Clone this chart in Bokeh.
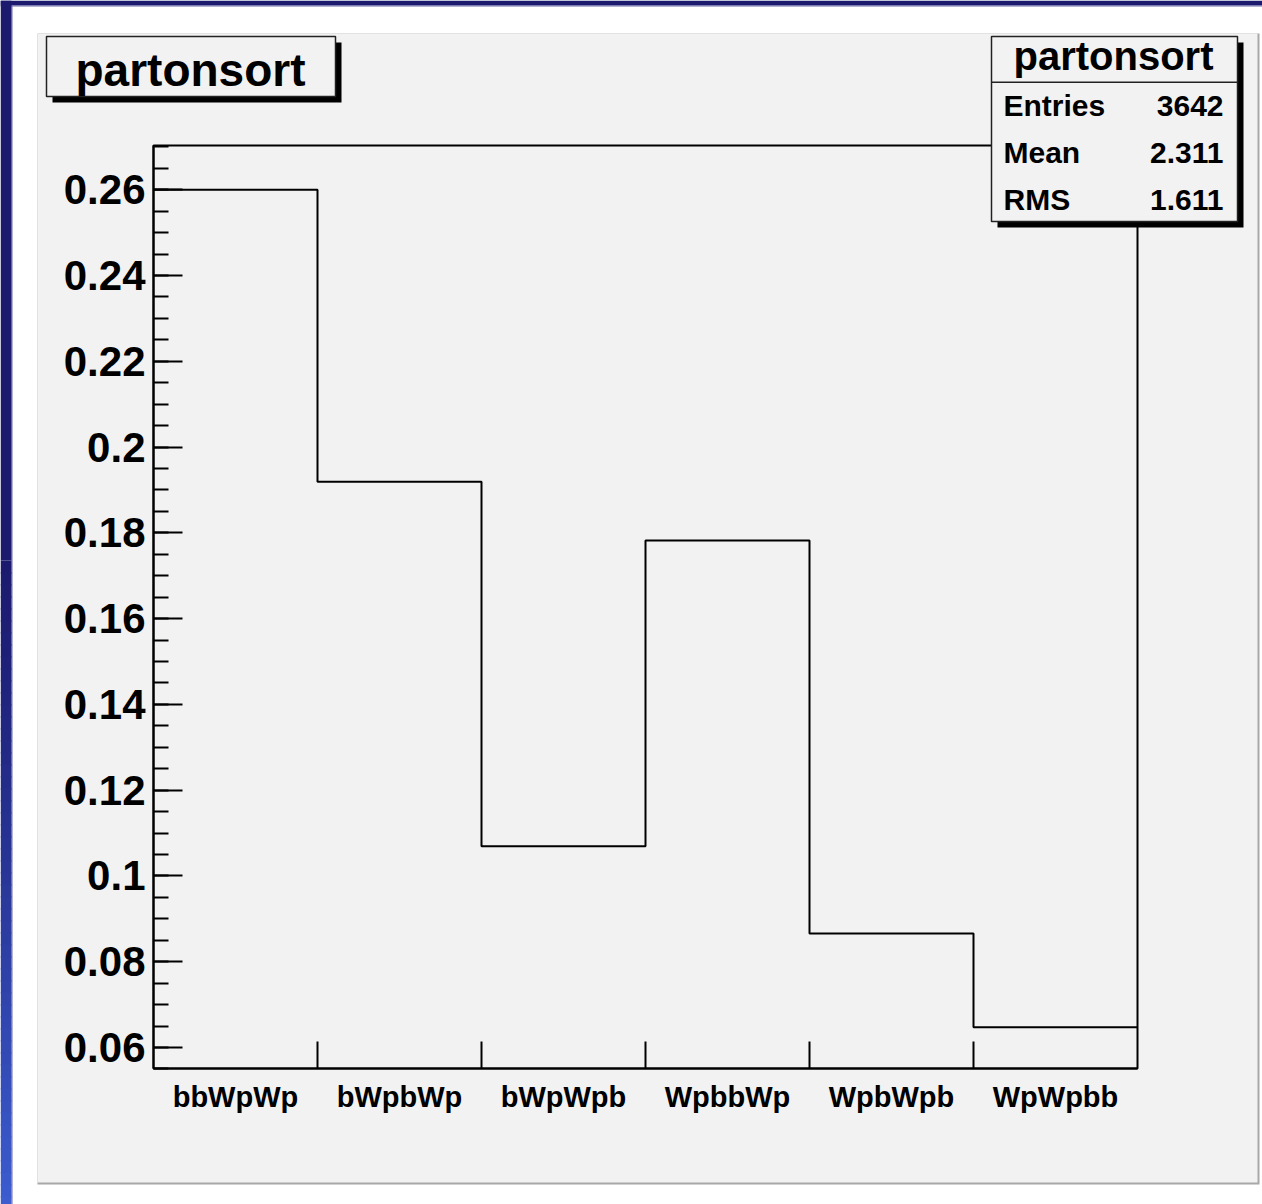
from bokeh.plotting import figure
from bokeh.models import Range1d, FixedTicker, BoxAnnotation, Label, LinearAxis
from bokeh.embed import file_html
from bokeh.resources import INLINE

# histogram content
hist_name = "partonsort"
categories = ["bbWpWp", "bWpbWp", "bWpWpb", "WpbbWp", "WpbWpb", "WpWpbb"]
fractions = [0.2600, 0.1919, 0.1069, 0.1782, 0.0866, 0.0647]

# y axis ticks and their labels
y_ticks = [0.06, 0.08, 0.10, 0.12, 0.14, 0.16, 0.18, 0.20, 0.22, 0.24, 0.26]
y_tick_labels = ["0.06", "0.08", "0.1", "0.12", "0.14", "0.16", "0.18", "0.2",
                 "0.22", "0.24", "0.26"]
y_min, y_max = 0.0551, 0.2703

# statistics box
stat_names = ["Entries", "Mean", "RMS"]
stat_values = ["3642", "2.311", "1.611"]

FONT = "Liberation Sans"
W, H = 1262, 1204
FL, FR, FT, FB = 153, 1137, 145, 1068   # plot box edges in page pixels
CANVAS = "#f2f2f2"
NAVY = (27, 26, 110)
BLUE = (60, 92, 208)

# the drawing area spans the whole page; data ranges are widened so that the
# histogram box lands at FL..FR / FT..FB
nbins = len(categories)
px_per_bin = (FR - FL) / nbins
px_per_unit = (FB - FT) / (y_max - y_min)
x_range = Range1d(-FL / px_per_bin, nbins + (W - FR) / px_per_bin)
y_range = Range1d(y_min - (H - FB) / px_per_unit, y_max + FT / px_per_unit)

p = figure(width=W, height=H, output_backend="svg", toolbar_location=None,
           x_range=x_range, y_range=y_range, x_axis_type=None, y_axis_type=None,
           min_border=0, border_fill_color="white", background_fill_color="white",
           outline_line_color=None)
p.grid.visible = False


def box(x0, y0, x1, y1, color, line=None, lw=1.5, level="underlay"):
    """Rectangle given in page pixels (y downwards)."""
    p.add_layout(BoxAnnotation(
        left=x0, right=x1, top=H - y0, bottom=H - y1,
        left_units="screen", right_units="screen",
        top_units="screen", bottom_units="screen",
        fill_color=color, fill_alpha=1.0,
        line_color=line, line_width=lw, line_alpha=1.0 if line else 0.0,
        level=level))


def label(x, y, text, size, align="left"):
    """Bold text whose baseline sits at page pixel row y."""
    lift = 0.3 * size
    p.add_layout(Label(
        x=x, y=H - y + lift, x_units="screen", y_units="screen", text=text,
        text_font=FONT, text_font_style="bold", text_font_size=f"{size}px",
        text_align=align, text_baseline="alphabetic", text_color="black",
        level="overlay"))


def hexcol(c):
    return "#%02x%02x%02x" % tuple(int(round(v)) for v in c)


# page surround: grey pad with shadow, navy top band, shaded left band
box(37, 33, 1259, 1184, "#a8a8a8")
box(37, 33, 1257, 1182, CANVAS)
box(0, 0, W, 5, hexcol(NAVY))
box(0, 5, W, 6, "#6a6aa8")
box(11, 5, 12, H, "#6a6aa8")
y0, step = 560, 12
box(0, 0, 11, y0, hexcol(NAVY))
yy = y0
while yy < H:
    t = ((yy + step / 2 - y0) / (H - y0)) ** 1.2
    c = [a + (b - a) * t for a, b in zip(NAVY, BLUE)]
    box(0, yy, 11, min(yy + step, H) + 1, hexcol(c))
    yy += step

# histogram outline and its frame
edges = list(range(nbins + 1))
p.step(x=edges, y=fractions + [fractions[-1]], mode="after",
       line_color="black", line_width=2)
p.quad(left=[0], right=[nbins], bottom=[y_min], top=[y_max],
       fill_color=None, line_color="black", line_width=2)

# y axis
ya = LinearAxis(fixed_location=0, bounds=(y_min, y_max))
ya.ticker = FixedTicker(ticks=y_ticks,
                        minor_ticks=[round(0.055 + 0.005 * i, 3) for i in range(44)])
ya.major_label_overrides = {t: s for t, s in zip(y_ticks, y_tick_labels)}
ya.major_tick_in = 29
ya.major_tick_out = 0
ya.minor_tick_in = 15
ya.minor_tick_out = 0
ya.major_tick_line_width = 2
ya.minor_tick_line_width = 2
ya.axis_line_width = 2
ya.major_label_standoff = 8
ya.major_label_text_font = FONT
ya.major_label_text_font_style = "bold"
ya.major_label_text_font_size = "42px"
ya.major_label_text_color = "black"
p.add_layout(ya, "left")

# x axis: names at bin centres, ticks on bin edges
centres = [i + 0.5 for i in range(nbins)]
xa = LinearAxis(fixed_location=y_min, bounds=(0, nbins))
xa.ticker = FixedTicker(ticks=centres, minor_ticks=edges[1:-1])
xa.major_label_overrides = {c: n for c, n in zip(centres, categories)}
xa.major_tick_in = 0
xa.major_tick_out = 0
xa.minor_tick_in = 27
xa.minor_tick_out = 0
xa.minor_tick_line_width = 2
xa.axis_line_width = 2
xa.major_label_standoff = 12
xa.major_label_text_font = FONT
xa.major_label_text_font_style = "bold"
xa.major_label_text_font_size = "29px"
xa.major_label_text_color = "black"
p.add_layout(xa, "below")

# title box with drop shadow
box(52, 42, 341, 102, "black", level="overlay")
box(46, 36, 335, 96, CANVAS, line="#222222", level="overlay")
label(190, 83, hist_name, 46, align="center")

# statistics box with drop shadow
box(997, 42, 1243, 227, "black", level="overlay")
box(991, 36, 1237, 221, CANVAS, line="#222222", level="overlay")
box(991, 81, 1237, 82.5, "#222222", level="overlay")
label(1113, 67, hist_name, 40, align="center")
for i, (n, v) in enumerate(zip(stat_names, stat_values)):
    yb = 114 + 47 * i
    label(1003, yb, n, 30)
    label(1223, yb, v, 30, align="right")

open("out.html", "w").write(file_html(p, INLINE))
